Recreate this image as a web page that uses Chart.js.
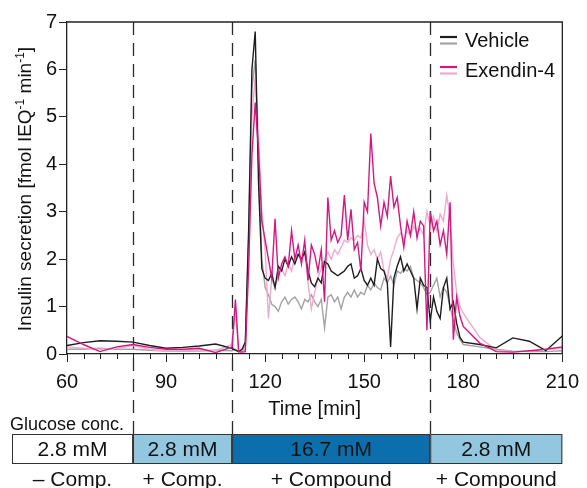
<!DOCTYPE html>
<html>
<head>
<meta charset="utf-8">
<script src="https://cdn.jsdelivr.net/npm/chart.js@4.4.1/dist/chart.umd.min.js"></script>
<style>
  html, body { margin: 0; padding: 0; background: #fff; }
</style>
</head>
<body>
<canvas id="chart" width="587" height="488"></canvas>
<script>
// sampling times (min): sparse before 110 and after 180, 1-min in between
var minutes = [
  60, 65, 70, 75, 80, 85, 90, 95, 100, 105,
  110, 111, 112, 113, 114, 115, 116, 117, 118, 119,
  120, 121, 122, 123, 124, 125, 126, 127, 128, 129,
  130, 131, 132, 133, 134, 135, 136, 137, 138, 139,
  140, 141, 142, 143, 144, 145, 146, 147, 148, 149,
  150, 151, 152, 153, 154, 155, 156, 157, 158, 159,
  160, 161, 162, 163, 164, 165, 166, 167, 168, 169,
  170, 171, 172, 173, 174, 175, 176, 177, 178, 179,
  180, 185, 190, 195, 200, 205, 210
];

var vehicle1 = [
  0.18, 0.24, 0.28, 0.27, 0.25, 0.18, 0.12, 0.14, 0.17, 0.21,
  0.12, 0.08, 0.05, 0.1, 0.25, 2.6, 6.0, 6.8, 3.6, 1.8,
  1.6, 1.55, 1.7, 1.4, 1.85, 1.75, 2.0, 1.85, 2.05, 1.9,
  2.1, 2.0, 2.15, 1.75, 1.5, 1.42, 1.6, 1.5, 1.95, 1.9,
  1.75, 1.7, 1.65, 1.7, 1.75, 1.85, 1.9, 1.6, 1.65, 1.8,
  1.55, 1.45, 1.6, 1.45, 2.0, 1.8, 1.75, 1.5, 0.15, 1.6,
  1.85, 2.05, 1.75, 1.9, 1.75, 1.6, 0.95, 1.6, 1.45, 1.4,
  0.7, 1.2, 0.9, 0.75, 1.4, 1.6, 0.95, 1.1, 0.65, 0.35,
  0.25, 0.2, 0.13, 0.34, 0.27, 0.07, 0.38
];

var vehicle2 = [
  0.1, 0.1, 0.12, 0.1, 0.1, 0.08, 0.06, 0.07, 0.06, 0.08,
  0.07, 0.1, 0.05, 0.05, 0.2, 2.4, 5.6, 6.2, 4.0, 2.0,
  1.4, 1.25, 1.05, 1.0, 0.9, 1.1, 1.2, 1.05, 1.15, 1.2,
  1.1, 0.95, 1.15, 1.1, 1.25, 1.1, 1.0, 1.15, 0.55, 1.2,
  1.25, 1.1, 1.2, 0.95, 1.2, 1.3, 1.2, 1.35, 1.2, 1.3,
  1.25, 1.45, 1.35, 1.5, 1.4, 1.35, 1.6, 1.5, 1.65, 1.45,
  1.75, 1.7, 1.8, 1.75, 1.85, 1.6, 1.55, 1.5, 1.4, 1.25,
  1.3, 1.45, 1.6, 1.2, 1.4, 1.3, 1.0, 0.7, 0.45, 0.3,
  0.2, 0.15, 0.1, 0.06, 0.05, 0.05, 0.07
];

var exendin1 = [
  0.37, 0.2, 0.05, 0.15, 0.2, 0.14, 0.1, 0.1, 0.12, 0.03,
  0.15, 1.15, 0.05, 0.04, 0.05, 1.8, 4.2, 5.3, 4.3, 2.8,
  2.4, 2.0, 1.6, 2.85, 1.6, 1.9, 2.05, 1.85, 2.6, 2.0,
  2.3, 1.9, 2.4, 1.55, 2.3, 2.1, 1.75, 2.2, 1.1, 3.3,
  2.4, 2.6, 2.35, 2.5, 3.35, 2.4, 3.05, 2.2, 2.35, 1.75,
  3.2, 3.0, 4.65, 3.6, 3.3, 2.7, 3.2, 2.9, 3.75, 3.1,
  3.3, 2.7, 2.25, 2.8, 2.5, 3.0, 2.45, 2.8, 2.7, 0.5,
  3.0, 2.6, 2.8, 2.3, 2.6, 2.1, 3.2, 0.3, 1.2, 0.8,
  0.58, 0.23, 0.05, 0.04, 0.07, 0.1, 0.15
];

var exendin2 = [
  0.15, 0.12, 0.1, 0.12, 0.18, 0.1, 0.06, 0.08, 0.1, 0.07,
  0.2, 0.9, 0.05, 0.04, 0.1, 2.2, 5.0, 5.85, 4.6, 3.0,
  2.2, 0.75, 1.6, 1.4, 1.7, 1.8, 1.65, 1.9, 1.75, 2.05,
  2.1, 1.95, 2.15, 1.5, 0.95, 1.3, 1.6, 1.8, 2.0, 2.15,
  2.0, 2.2, 2.1, 2.25, 2.4, 2.35, 2.45, 2.4, 2.5, 2.45,
  2.82, 2.3, 2.1, 2.2, 2.0, 2.15, 1.75, 1.6, 2.0, 2.2,
  2.45, 2.55, 2.4, 2.6, 2.5, 2.7, 2.55, 2.65, 2.5, 3.0,
  2.7, 2.9, 2.6, 2.95, 2.8, 3.35, 2.9, 1.9, 1.3, 1.0,
  0.86, 0.35, 0.08, 0.05, 0.06, 0.1, 0.12
];

var seriesNames = ['Vehicle', 'Exendin-4'];
var phaseEdges = [80, 110, 170, 210];
var glucoseLabels = ['2.8 mM', '2.8 mM', '16.7 mM', '2.8 mM'];
var compoundLabels = ['\u2013 Comp.', '+ Comp.', '+ Compound', '+ Compound'];
var phaseColors = ['#ffffff', '#93c6df', '#0b6fae', '#93c6df'];
// y title pieces: [text, superscript?]
var yTitle = [['Insulin secretion [fmol IEQ', false], ['-1', true], [' min', false], ['-1', true], [']', false]];

var BLACK = '#1e1e1e', GRAY = '#a3a3a3', MAGENTA = '#cf1a80', PINK = '#efaacd';
var FONT = "'Liberation Sans', Arial, sans-serif";

function pts(vals) {
  return minutes.map(function (t, i) { return { x: t, y: vals[i] }; });
}

var extras = {
  id: 'extras',
  beforeDatasetsDraw: function (chart) {
    var c = chart.ctx, a = chart.chartArea, xs = chart.scales.x;
    c.save();
    c.strokeStyle = '#2a2a2a';
    c.lineWidth = 1.3;
    c.setLineDash([13, 8]);
    for (var i = 0; i < 3; i++) {
      var px = Math.round(xs.getPixelForValue(phaseEdges[i])) + 0.5;
      c.beginPath(); c.moveTo(px, a.top); c.lineTo(px, 434); c.stroke();
    }
    c.restore();
  },
  afterDraw: function (chart) {
    var c = chart.ctx, a = chart.chartArea, xs = chart.scales.x, ys = chart.scales.y;
    c.save();
    // frame
    c.strokeStyle = '#222'; c.lineWidth = 1.3;
    c.beginPath(); c.moveTo(a.left, a.top); c.lineTo(a.right, a.top); c.lineTo(a.right, a.bottom); c.stroke();
    // minor ticks
    c.lineWidth = 1;
    xs.ticks.forEach(function (t) {
      if (t.value % 30 !== 0) {
        var px = Math.round(xs.getPixelForValue(t.value)) + 0.5;
        c.beginPath(); c.moveTo(px, a.bottom); c.lineTo(px, a.bottom + 5); c.stroke();
      }
    });
    ys.ticks.forEach(function (t) {
      if (!Number.isInteger(t.value)) {
        var py = Math.round(ys.getPixelForValue(t.value)) + 0.5;
        c.beginPath(); c.moveTo(a.left, py); c.lineTo(a.left - 5, py); c.stroke();
      }
    });

    // y title with superscripts
    var big = '19px ' + FONT, small = '12px ' + FONT;
    var total = 0;
    yTitle.forEach(function (p) { c.font = p[1] ? small : big; total += c.measureText(p[0]).width; });
    c.save();
    c.translate(31, (a.top + a.bottom) / 2 + 1);
    c.rotate(-Math.PI / 2);
    c.fillStyle = '#111';
    c.textAlign = 'left'; c.textBaseline = 'alphabetic';
    var xx = -total / 2;
    yTitle.forEach(function (p) {
      c.font = p[1] ? small : big;
      c.fillText(p[0], xx, p[1] ? -7 : 0);
      xx += c.measureText(p[0]).width;
    });
    c.restore();

    // glucose bar
    var top = 434, h = 30;
    var edges = [12].concat(phaseEdges.map(function (v) { return xs.getPixelForValue(v); }));
    c.fillStyle = '#111';
    c.font = '18px ' + FONT;
    c.textAlign = 'left'; c.textBaseline = 'alphabetic';
    c.fillText('Glucose conc.', 10, 430);
    for (var i = 0; i < 4; i++) {
      var x0 = edges[i], x1 = edges[i + 1];
      c.fillStyle = phaseColors[i];
      c.fillRect(x0, top, x1 - x0, h);
      c.strokeStyle = '#333'; c.lineWidth = 1;
      c.strokeRect(x0 + 0.5, top + 0.5, x1 - x0 - 1, h - 1);
      c.fillStyle = '#111';
      c.font = '21px ' + FONT;
      c.textAlign = 'center'; c.textBaseline = 'middle';
      c.fillText(glucoseLabels[i], (x0 + x1) / 2, top + h / 2 + 1);
      c.textBaseline = 'alphabetic';
      c.fillText(compoundLabels[i], (x0 + x1) / 2, 486);
    }

    // legend
    var groups = [[BLACK, GRAY], [MAGENTA, PINK]];
    c.lineWidth = 2.2;
    for (var g = 0; g < 2; g++) {
      var y0 = 37 + g * 30;
      c.strokeStyle = groups[g][0];
      c.beginPath(); c.moveTo(440, y0); c.lineTo(457, y0); c.stroke();
      c.strokeStyle = groups[g][1];
      c.beginPath(); c.moveTo(440, y0 + 6.5); c.lineTo(457, y0 + 6.5); c.stroke();
      c.fillStyle = '#111';
      c.font = '20px ' + FONT;
      c.textAlign = 'left'; c.textBaseline = 'middle';
      c.fillText(seriesNames[g], 465, y0 + 4);
    }
    c.restore();
  }
};

var ctx = document.getElementById('chart');
var myChart = new Chart(ctx, {
  type: 'line',
  data: {
    datasets: [
      { label: seriesNames[1], data: pts(exendin1), borderColor: MAGENTA, order: 0 },
      { label: seriesNames[0], data: pts(vehicle1), borderColor: BLACK, order: 1 },
      { label: seriesNames[1], data: pts(exendin2), borderColor: PINK, order: 2 },
      { label: seriesNames[0], data: pts(vehicle2), borderColor: GRAY, order: 3 }
    ]
  },
  options: {
    responsive: false,
    animation: false,
    elements: {
      point: { radius: 0 },
      line: { borderWidth: 1.4, tension: 0, fill: false }
    },
    layout: { padding: { top: 22, right: 20, left: 0, bottom: 0 } },
    plugins: { legend: { display: false }, tooltip: { enabled: false } },
    scales: {
      x: {
        type: 'linear',
        min: 60, max: 210,
        afterFit: function (s) { s.height = 134; },
        border: { color: '#222', width: 1.3 },
        grid: {
          drawOnChartArea: false, tickLength: 8,
          tickColor: function (c) { return c.tick && c.tick.value % 30 === 0 ? '#222' : 'rgba(0,0,0,0)'; }
        },
        ticks: {
          stepSize: 5, autoSkip: false, maxRotation: 0, padding: 8,
          color: '#111', font: { family: FONT, size: 20 },
          callback: function (v) { return v % 30 === 0 ? v : ''; }
        },
        title: {
          display: true, text: 'Time [min]', color: '#111',
          font: { family: FONT, size: 20 }, padding: { top: 0, bottom: 67 }
        }
      },
      y: {
        min: 0, max: 7,
        afterFit: function (s) { s.width = 67; },
        border: { color: '#222', width: 1.3 },
        grid: {
          drawOnChartArea: false, tickLength: 8,
          tickColor: function (c) { return c.tick && Number.isInteger(c.tick.value) ? '#222' : 'rgba(0,0,0,0)'; }
        },
        ticks: {
          stepSize: 0.5, padding: 2,
          color: '#111', font: { family: FONT, size: 20 },
          callback: function (v) { return Number.isInteger(v) ? v : ''; }
        }
      }
    }
  },
  plugins: [extras]
});
</script>
</body>
</html>
